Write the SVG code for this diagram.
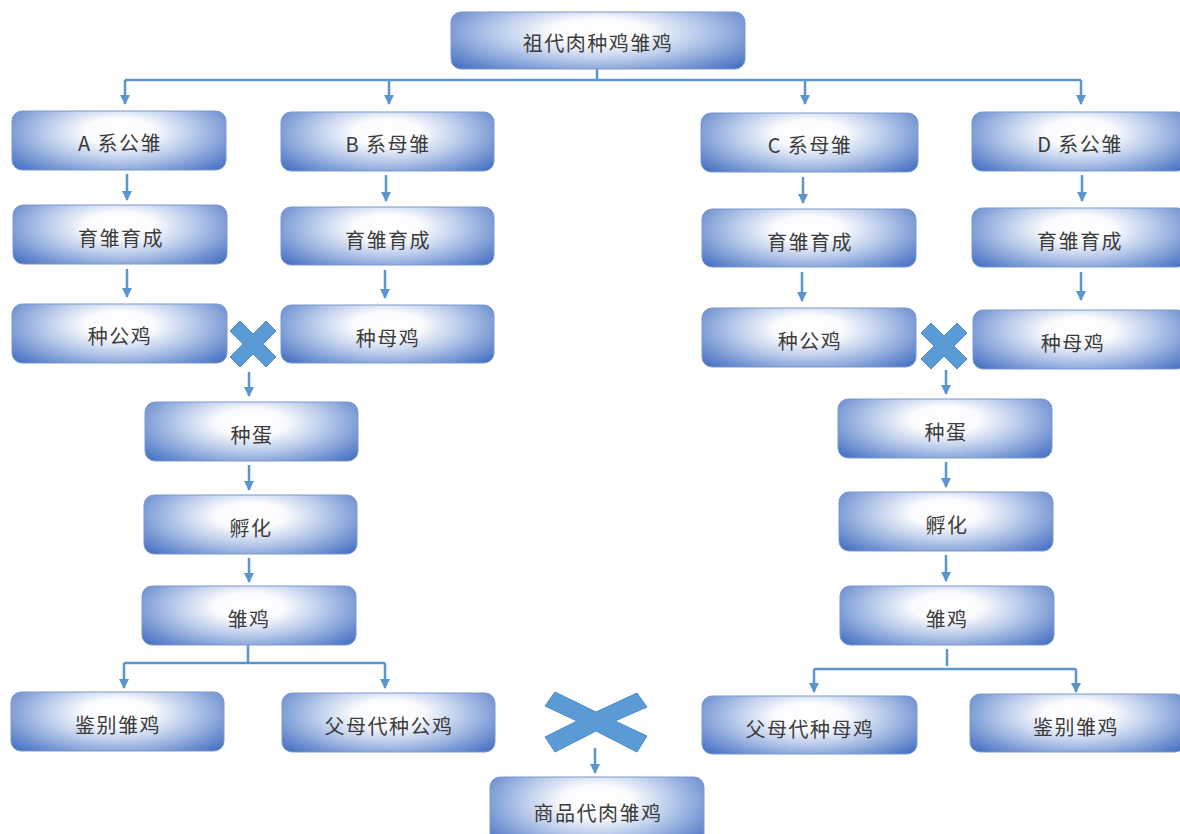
<svg xmlns="http://www.w3.org/2000/svg" width="1180" height="834" viewBox="0 0 1180 834">
<defs>
<radialGradient id="g" cx="0" cy="0" r="1" gradientUnits="objectBoundingBox" gradientTransform="translate(0.5 0.35) scale(0.64 0.9)">
<stop offset="0" stop-color="#ffffff"/>
<stop offset="0.25" stop-color="#fbfcfe"/>
<stop offset="0.55" stop-color="#b7c9ea"/>
<stop offset="1" stop-color="#4a74c4"/>
</radialGradient>
<marker id="ah" markerUnits="userSpaceOnUse" markerWidth="12" markerHeight="12" viewBox="0 0 12 12" refX="10" refY="6" orient="auto">
<path d="M1,1 L1,11 L11,6 Z" fill="#5b95d0"/>
</marker>
</defs>
<style>
.n rect{fill:url(#g);stroke:#7d98cc;stroke-width:1}
.n text{font-family:"Noto Sans CJK SC","Noto Sans",sans-serif;font-size:20px;fill:#3c3c3c;text-anchor:middle;dominant-baseline:central;letter-spacing:1.5px}
.c path,.c line{stroke:#5b95d0;stroke-width:2.5;fill:none}
.a{marker-end:url(#ah)}
.x{fill:#5b9bd5;stroke:#4f8ac6;stroke-width:1}
</style>
<rect width="1180" height="834" fill="#ffffff"/>
<g class="c" id="connectors">
<path d="M597,69 V80 M125,80 H1081"/>
<line class="a" x1="125" y1="80" x2="125" y2="104"/>
<line class="a" x1="389" y1="80" x2="389" y2="104"/>
<line class="a" x1="805" y1="80" x2="805" y2="104"/>
<line class="a" x1="1081" y1="80" x2="1081" y2="104"/>
<line class="a" x1="127" y1="174" x2="127" y2="200"/>
<line class="a" x1="386" y1="175" x2="386" y2="201"/>
<line class="a" x1="803" y1="177" x2="803" y2="203"/>
<line class="a" x1="1082" y1="175" x2="1082" y2="201"/>
<line class="a" x1="127" y1="269" x2="127" y2="297"/>
<line class="a" x1="385" y1="270" x2="385" y2="298"/>
<line class="a" x1="802" y1="272" x2="802" y2="301"/>
<line class="a" x1="1081" y1="272" x2="1081" y2="300"/>
<line class="a" x1="249" y1="372" x2="249" y2="396"/>
<line class="a" x1="946" y1="370" x2="946" y2="394"/>
<line class="a" x1="249" y1="465" x2="249" y2="490"/>
<line class="a" x1="249" y1="558" x2="249" y2="582"/>
<line class="a" x1="946" y1="462" x2="946" y2="487"/>
<line class="a" x1="946" y1="555" x2="946" y2="581"/>
<path d="M248,645 V663 M124,663 H385"/>
<line class="a" x1="124" y1="663" x2="124" y2="688"/>
<line class="a" x1="385" y1="663" x2="385" y2="688"/>
<path d="M947,649 V666 M814,669 H1076"/>
<line class="a" x1="814" y1="669" x2="814" y2="692"/>
<line class="a" x1="1076" y1="669" x2="1076" y2="692"/>
<line class="a" x1="595" y1="748" x2="595" y2="773"/>
</g>
<g id="crosses">
<polygon class="x" transform="translate(253 344)" points="-23,-13 -13,-23 0,-10 13,-23 23,-13 10,0 23,13 13,23 0,10 -13,23 -23,13 -10,0"/>
<polygon class="x" transform="translate(944 346)" points="-23,-13 -13,-23 0,-10 13,-23 23,-13 10,0 23,13 13,23 0,10 -13,23 -23,13 -10,0"/>
<polygon class="x" points="555,692 596,712 637,693 647,707 615,721 647,736 637,752 596,731 555,752 545,737 577,721 545,706"/>
</g>
<g class="n" id="n-top"><rect x="451" y="12" width="294" height="57" rx="10"/><text x="598" y="42">祖代肉种鸡雏鸡</text></g>
<g class="n" id="n-a1"><rect x="12" y="111" width="214" height="59" rx="10"/><text x="120" y="142">A 系公雏</text></g>
<g class="n" id="n-b1"><rect x="281" y="112" width="213" height="59" rx="10"/><text x="388" y="143">B 系母雏</text></g>
<g class="n" id="n-c1"><rect x="701" y="113" width="217" height="59" rx="10"/><text x="810" y="144">C 系母雏</text></g>
<g class="n" id="n-d1"><rect x="972" y="112" width="215" height="59" rx="10"/><text x="1080" y="143">D 系公雏</text></g>
<g class="n" id="n-a2"><rect x="13" y="205" width="214" height="59" rx="10"/><text x="121" y="237">育雏育成</text></g>
<g class="n" id="n-b2"><rect x="281" y="207" width="213" height="58" rx="10"/><text x="388" y="239">育雏育成</text></g>
<g class="n" id="n-c2"><rect x="702" y="209" width="214" height="58" rx="10"/><text x="810" y="241">育雏育成</text></g>
<g class="n" id="n-d2"><rect x="972" y="208" width="215" height="59" rx="10"/><text x="1080" y="240">育雏育成</text></g>
<g class="n" id="n-a3"><rect x="12" y="304" width="215" height="59" rx="10"/><text x="120" y="335">种公鸡</text></g>
<g class="n" id="n-b3"><rect x="281" y="305" width="213" height="58" rx="10"/><text x="388" y="337">种母鸡</text></g>
<g class="n" id="n-c3"><rect x="702" y="308" width="214" height="59" rx="10"/><text x="810" y="340">种公鸡</text></g>
<g class="n" id="n-d3"><rect x="973" y="310" width="214" height="59" rx="10"/><text x="1073" y="342">种母鸡</text></g>
<g class="n" id="n-l1"><rect x="145" y="402" width="213" height="59" rx="10"/><text x="252" y="434">种蛋</text></g>
<g class="n" id="n-l2"><rect x="144" y="495" width="213" height="59" rx="10"/><text x="251" y="527">孵化</text></g>
<g class="n" id="n-l3"><rect x="142" y="586" width="214" height="59" rx="10"/><text x="249" y="618">雏鸡</text></g>
<g class="n" id="n-r1"><rect x="838" y="399" width="214" height="59" rx="10"/><text x="946" y="431">种蛋</text></g>
<g class="n" id="n-r2"><rect x="839" y="492" width="214" height="59" rx="10"/><text x="947" y="524">孵化</text></g>
<g class="n" id="n-r3"><rect x="840" y="586" width="214" height="59" rx="10"/><text x="947" y="618">雏鸡</text></g>
<g class="n" id="n-lb1"><rect x="11" y="692" width="213" height="59" rx="10"/><text x="118" y="724">鉴别雏鸡</text></g>
<g class="n" id="n-lb2"><rect x="282" y="693" width="213" height="59" rx="10"/><text x="389" y="725">父母代种公鸡</text></g>
<g class="n" id="n-rb1"><rect x="702" y="696" width="215" height="58" rx="10"/><text x="810" y="728">父母代种母鸡</text></g>
<g class="n" id="n-rb2"><rect x="970" y="694" width="215" height="58" rx="10"/><text x="1076" y="726">鉴别雏鸡</text></g>
<g class="n" id="n-bot"><rect x="490" y="777" width="214" height="70" rx="10"/><text x="598" y="812">商品代肉雏鸡</text></g>
</svg>
